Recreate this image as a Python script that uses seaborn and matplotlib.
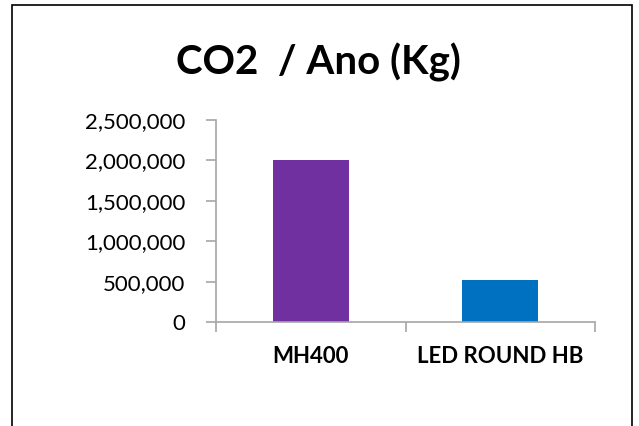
import matplotlib
matplotlib.use("Agg")
import matplotlib.pyplot as plt
import matplotlib.ticker as mticker
from matplotlib.patches import Rectangle
import seaborn as sns
import pandas as pd

# chart data
categories = ["MH400", "LED ROUND HB"]
co2_values = [2005000, 520000]
bar_colors = ["#7030A0", "#0070C0"]
y_ticks = [0, 500000, 1000000, 1500000, 2000000, 2500000]

df = pd.DataFrame({"lamp": categories, "co2": co2_values})

sns.set_style("white")
plt.rcParams["font.family"] = ["Lato", "DejaVu Sans"]
plt.rcParams["text.color"] = "black"
plt.rcParams["xtick.labelcolor"] = "black"
plt.rcParams["ytick.labelcolor"] = "black"

fig = plt.figure(figsize=(6.39, 4.26), dpi=100)
W, H = 639, 426
ax = fig.add_axes([216 / W, 1 - 322 / H, (595 - 216) / W, (322 - 120) / H])

sns.barplot(data=df, x="lamp", y="co2", hue="lamp", palette=bar_colors,
            width=0.4, legend=False, ax=ax, saturation=1, linewidth=0)

ax.set_ylim(0, 2500000)
ax.set_xlim(-0.5, 1.5)
ax.set_yticks(y_ticks)
ax.yaxis.set_major_formatter(mticker.FuncFormatter(lambda v, p: f"{int(v):,}"))
ax.set_xlabel("")
ax.set_ylabel("")

# excel-like axes
for s in ["top", "right"]:
    ax.spines[s].set_visible(False)
for s in ["left", "bottom"]:
    ax.spines[s].set_color("#A6A6A6")
    ax.spines[s].set_linewidth(1.2)

ax.tick_params(axis="y", length=7, width=1.2, color="#A6A6A6", labelsize=16, pad=15,
               left=True, labelcolor="black")
ax.set_xticks([0, 1])
ax.tick_params(axis="x", length=0, pad=17, labelsize=16, labelcolor="black")
# minor ticks between categories on the x axis
ax.xaxis.set_minor_locator(mticker.FixedLocator([-0.5, 0.5, 1.5]))
ax.tick_params(axis="x", which="minor", length=7, width=1.2, color="#A6A6A6", bottom=True)
ax.set_xticklabels(categories)

fig.text(318 / W, 1 - 62 / H, "CO2  / Ano (Kg)", fontsize=29, fontweight="bold",
         ha="center", va="center", color="black")

# chart frame
fig.patches.append(Rectangle((12 / W, -0.05), (632 - 12) / W, 1 - 5 / H + 0.05,
                             transform=fig.transFigure, fill=False,
                             edgecolor="black", linewidth=1.2))

fig.canvas.draw()
for tick in ax.xaxis.get_major_ticks():
    tick.label1.set_fontweight("bold")

fig.savefig("out.png", dpi=100)
